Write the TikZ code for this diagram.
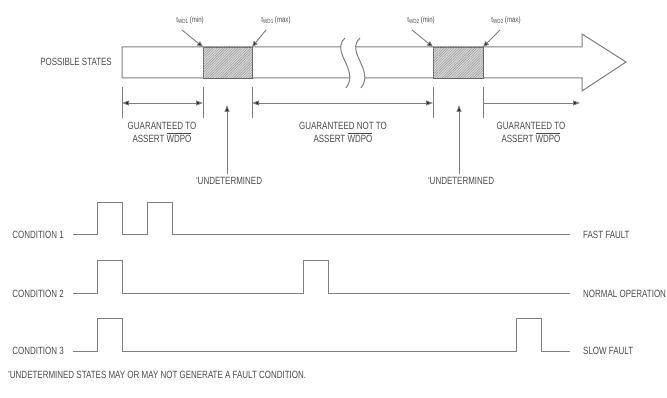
\documentclass[tikz,border=0pt]{standalone}
\usepackage{fontspec}
\setmainfont[FakeStretch=0.76]{Liberation Sans}
\usetikzlibrary{arrows.meta,patterns.meta}
\definecolor{ink}{HTML}{4A4A4A}
\definecolor{wire}{HTML}{7E7E7E}
\newcommand{\wdpo}{$\overline{\mbox{WDPO}}$}
\newcommand{\tsub}[1]{t\raisebox{-1.2pt}{\fontsize{6}{6}\selectfont #1}}
\newcommand{\astr}{\raisebox{3pt}{\fontsize{6}{6}\selectfont *}}
\begin{document}
\begin{tikzpicture}[x=1pt,y=-1pt,
  lbl/.style={font=\fontsize{10.5}{12.5}\selectfont, text=ink, inner sep=0pt},
  tlbl/.style={font=\fontsize{8}{8}\selectfont, text=ink, inner sep=0pt},
  wave/.style={draw=wire, line width=1pt},
  barline/.style={draw=wire, line width=1pt},
  tick/.style={draw=wire, line width=0.9pt},
  dimarrow/.style={draw=wire, line width=0.9pt, {Triangle[length=7pt,width=5pt,fill=black!85]}-{Triangle[length=7pt,width=5pt,fill=black!85]}},
  onearrow/.style={draw=wire, line width=0.9pt, -{Triangle[length=7pt,width=5pt,fill=black!85]}},
  pointer/.style={draw=wire, line width=0.9pt, -{Triangle[length=6pt,width=5pt,fill=black!85]}},
  hatch/.style={draw=black!60, line width=0.6pt, fill=gray!30, postaction={pattern={Lines[angle=45,distance=1.8pt,line width=0.45pt]}, pattern color=gray!85}}
]
\useasboundingbox (0,0) rectangle (667,398);

% big arrow
\draw[barline] (122,47) -- (582,47) -- (582,34) -- (626,62) -- (582,91) -- (582,78) -- (122,78) -- cycle;
% break mark
\fill[white] (345,38) .. controls (330,52) and (360,70) .. (346,88) -- (361,88) .. controls (375,70) and (345,52) .. (360,38) -- cycle;
\draw[barline] (345,38) .. controls (330,52) and (360,70) .. (346,88);
\draw[barline] (360,38) .. controls (345,52) and (375,70) .. (361,88);
% hatched regions
\draw[hatch] (203,47) rectangle (252,78);
\draw[hatch] (433,47) rectangle (483,78);

\node[lbl, anchor=east] (ps) at (112,62) {POSSIBLE STATES};

% time labels and pointers
\node[tlbl] (t1min) at (190,20) {\tsub{WD1} (min)};
\node[tlbl] (t1max) at (276,20) {\tsub{WD1} (max)};
\node[tlbl] (t2min) at (421,20) {\tsub{WD2} (min)};
\node[tlbl] (t2max) at (506,20) {\tsub{WD2} (max)};
\coordinate (c1) at (203,47);
\coordinate (c2) at (252,47);
\coordinate (c3) at (433,47);
\coordinate (c4) at (483,47);
\coordinate (p1) at (182,30);
\coordinate (p2) at (266,30);
\coordinate (p3) at (412,30);
\coordinate (p4) at (500,30);
\draw[pointer] (p1) -- (c1);
\draw[pointer] (p2) -- (c2);
\draw[pointer] (p3) -- (c3);
\draw[pointer] (p4) -- (c4);

% dimension ticks
\foreach \x/\n in {122/a,203/b,252/c,433/d,483/e}{
  \coordinate (k\n t) at (\x,87);
  \coordinate (k\n b) at (\x,118);
  \coordinate (k\n m) at (\x,103);
  \draw[tick] (k\n t) -- (k\n b);
}
\coordinate (kend) at (580,103);
\draw[dimarrow] (kam) -- (kbm);
\draw[dimarrow] (kcm) -- (kdm);
\draw[onearrow] (kem) -- (kend);

\node[lbl, align=center, anchor=north] (g1) at (162,122) {GUARANTEED TO\\ASSERT \wdpo};
\node[lbl, align=center, anchor=north] (g2) at (343,122) {GUARANTEED NOT TO\\ASSERT \wdpo};
\node[lbl, align=center, anchor=north] (g3) at (531,122) {GUARANTEED TO\\ASSERT \wdpo};

% undetermined arrows
\node[lbl] (u1) at (229,181) {\astr UNDETERMINED};
\node[lbl] (u2) at (461,181) {\astr UNDETERMINED};
\coordinate (h1) at (227,105);
\coordinate (h2) at (459,105);
\draw[onearrow] (u1.north -| h1) ++(0,-3) -- (h1);
\draw[onearrow] (u2.north -| h2) ++(0,-3) -- (h2);

% waveforms
\node[lbl, anchor=east] (cd1) at (64,235) {CONDITION 1};
\node[lbl, anchor=east] (cd2) at (64,294) {CONDITION 2};
\node[lbl, anchor=east] (cd3) at (64,351) {CONDITION 3};
\node[lbl, anchor=west] (r1) at (583,235) {FAST FAULT};
\node[lbl, anchor=west] (r2) at (583,294) {NORMAL OPERATION};
\node[lbl, anchor=west] (r3) at (583,351) {SLOW FAULT};

\draw[wave] (73,235) -- (97,235) -- (97,203) -- (122,203) -- (122,235) -- (147,235) -- (147,203) -- (172,203) -- (172,235) -- (570,235);
\draw[wave] (73,294) -- (97,294) -- (97,261) -- (122,261) -- (122,294) -- (303,294) -- (303,261) -- (328,261) -- (328,294) -- (570,294);
\draw[wave] (73,351) -- (97,351) -- (97,318) -- (122,318) -- (122,351) -- (516,351) -- (516,318) -- (541,318) -- (541,351) -- (570,351);

\node[lbl, anchor=west] (fn) at (8,375) {\astr UNDETERMINED STATES MAY OR MAY NOT GENERATE A FAULT CONDITION.};
\end{tikzpicture}
\end{document}
